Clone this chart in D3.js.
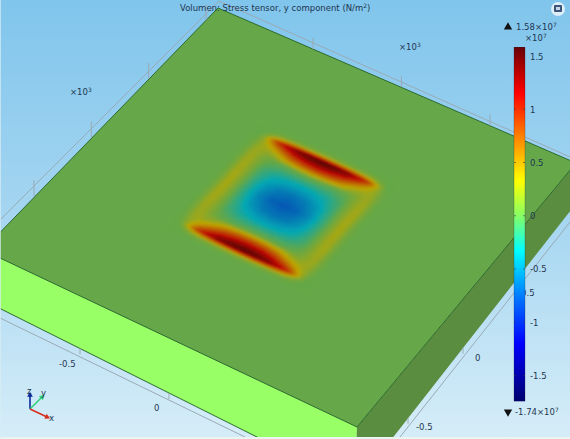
<!DOCTYPE html>
<html><head><meta charset="utf-8">
<script src="https://cdnjs.cloudflare.com/ajax/libs/d3/7.8.5/d3.min.js"></script>
<style>html,body{margin:0;padding:0;background:#fff}svg{display:block}text{font-family:"DejaVu Sans",sans-serif;fill:#1f3650}</style>
</head><body><svg id="c" width="570" height="439"></svg>
<script>
const titleText = "Volumen: Stress tensor, y component (N/m";
const colorbarTicks = [1.5, 1, 0.5, 0, -0.5, -1, -1.5];
const colorbarMax = 1.58, colorbarMin = -1.74;
const stopValues = [-1.74, -1.2, -0.8, -0.33, 0, 0.33, 0.75, 1.15, 1.4, 1.58];
const stopColors = ["#00006e", "#0000ff", "#006eff", "#00ffff", "#86ff64", "#ffff00", "#ff8000", "#ff0000", "#aa0000", "#680008"];
const gridCoordsX = [-.38,-.35,-.335,-.32,-.30,-.28,-.25,-.21,-.14,-.07,0,.07,.14,.21,.25,.28,.30,.32,.335,.35,.38];
const gridCoordsY = [-.42,-.39,-.37,-.352,-.33,-.308,-.275,-.231,-.154,-.077,0,.077,.154,.231,.275,.308,.33,.352,.37,.39,.42];
const fieldValues = [
[0,0,0,0,0,0,0,0,0,0,0,0,0,0,0,0,0,0,0,0,0],
[0,0,0,.01,.03,.05,.08,.1,.12,.14,.15,.14,.12,.1,.08,.05,.03,.01,0,0,0],
[0,0,.02,.05,.12,.22,.4,.6,.8,.9,.95,.9,.8,.6,.4,.22,.12,.05,.02,0,0],
[0,.01,.05,.12,.3,.55,.9,1.15,1.42,1.52,1.55,1.52,1.42,1.15,.9,.55,.3,.12,.05,.01,0],
[0,.02,.06,.14,.25,.4,.65,.9,1.25,1.4,1.45,1.4,1.25,.9,.65,.4,.25,.14,.06,.02,0],
[0,.03,.08,.14,.2,.27,.4,.62,.95,1.15,1.2,1.15,.95,.62,.4,.27,.2,.14,.08,.03,0],
[0,.04,.1,.16,.2,.2,.18,.25,.55,.7,.75,.7,.55,.25,.18,.2,.2,.16,.1,.04,0],
[0,.05,.11,.18,.2,.16,.08,.02,0,.03,.05,.03,0,.02,.08,.16,.2,.18,.11,.05,0],
[0,.05,.12,.2,.22,.16,.05,-.1,-.24,-.3,-.32,-.3,-.24,-.1,.05,.16,.22,.2,.12,.05,0],
[0,.05,.12,.2,.24,.17,.04,-.14,-.4,-.55,-.6,-.55,-.4,-.14,.04,.17,.24,.2,.12,.05,0],
[0,.05,.12,.2,.25,.17,.03,-.16,-.48,-.68,-.74,-.68,-.48,-.16,.03,.17,.25,.2,.12,.05,0],
[0,.05,.12,.2,.24,.17,.04,-.14,-.4,-.55,-.6,-.55,-.4,-.14,.04,.17,.24,.2,.12,.05,0],
[0,.05,.12,.2,.22,.16,.05,-.1,-.24,-.3,-.32,-.3,-.24,-.1,.05,.16,.22,.2,.12,.05,0],
[0,.05,.11,.18,.2,.16,.08,.02,0,.03,.05,.03,0,.02,.08,.16,.2,.18,.11,.05,0],
[0,.04,.1,.16,.2,.2,.18,.25,.55,.7,.75,.7,.55,.25,.18,.2,.2,.16,.1,.04,0],
[0,.03,.08,.14,.2,.27,.4,.62,.95,1.15,1.2,1.15,.95,.62,.4,.27,.2,.14,.08,.03,0],
[0,.02,.06,.14,.25,.4,.65,.9,1.25,1.4,1.45,1.4,1.25,.9,.65,.4,.25,.14,.06,.02,0],
[0,.01,.05,.12,.3,.55,.9,1.15,1.42,1.52,1.55,1.52,1.42,1.15,.9,.55,.3,.12,.05,.01,0],
[0,0,.02,.05,.12,.22,.4,.6,.8,.9,.95,.9,.8,.6,.4,.22,.12,.05,.02,0,0],
[0,0,0,.01,.03,.05,.08,.1,.12,.14,.15,.14,.12,.1,.08,.05,.03,.01,0,0,0],
[0,0,0,0,0,0,0,0,0,0,0,0,0,0,0,0,0,0,0,0,0]
];
const axisTicksBackLeft = [-0.5, 0, 0.5, 1];
const axisTicksBackRight = [-0.5, 0, 0.5];
const axisTicksFrontLeft = [-0.5, 0];
const axisTicksFrontRight = [-0.5, 0];

const svg = d3.select("#c");
const defs = svg.append("defs");
const bg = defs.append("linearGradient").attr("id","bg").attr("x1",0).attr("x2",0).attr("y1",0).attr("y2",1);
[[0,"#80c5ec"],[.5,"#a6d6f1"],[1,"#d6edf8"]].forEach(d=>bg.append("stop").attr("offset",d[0]).attr("stop-color",d[1]));
defs.append("filter").attr("id","soft").attr("x","-5%").attr("y","-5%").attr("width","110%").attr("height","110%")
  .append("feGaussianBlur").attr("stdDeviation",0.9);
defs.append("filter").attr("id","soft2").append("feGaussianBlur").attr("stdDeviation",0.25);
svg.append("rect").attr("width",570).attr("height",439).attr("fill","url(#bg)");

// Perspective plane from its four screen corners
function plane(p00,p10,p11,p01){
  const dx1=p10[0]-p11[0],dx2=p01[0]-p11[0],sx=p00[0]-p10[0]+p11[0]-p01[0];
  const dy1=p10[1]-p11[1],dy2=p01[1]-p11[1],sy=p00[1]-p10[1]+p11[1]-p01[1];
  const den=dx1*dy2-dx2*dy1,g=(sx*dy2-dx2*sy)/den,h=(dx1*sy-sx*dy1)/den;
  const a=p10[0]-p00[0]+g*p10[0],b=p01[0]-p00[0]+h*p01[0];
  const d=p10[1]-p00[1]+g*p10[1],e=p01[1]-p00[1]+h*p01[1];
  return (s,t)=>{const w=1+g*s+h*t;return [(a*s+b*t+p00[0])/w,(d*s+e*t+p00[1])/w];};
}
const unit=d3.scaleLinear([-1,1],[0,1]);
const topP=plane([-17,250],[357,427],[576,163],[218,8]);
const botP=plane([-17,300],[355,486],[578,201],[218,60]);
const top3=(x,y)=>topP(unit(x),unit(y)), bot3=(x,y)=>botP(unit(x),unit(y));

const color=d3.scaleLinear(stopValues,stopColors).clamp(true);
const shade=c=>{const r=d3.rgb(c);return d3.rgb(r.r*.76,r.g*.66,r.b*.73).formatRgb();};
const plateFill=shade(color(0));
const poly=d3.line();

const faces=[
 {pts:[bot3(-1,-1),bot3(1,-1),top3(1,-1),top3(-1,-1)],fill:"#99ff66"},
 {pts:[top3(1,-1),bot3(1,-1),bot3(1,1),top3(1,1)],fill:"#5b8d40"},
 {pts:[top3(-1,-1),top3(1,-1),top3(1,1),top3(-1,1)],fill:plateFill}
];
svg.selectAll("path.face").data(faces).join("path").attr("class","face")
  .attr("d",d=>poly(d.pts)+"Z").attr("fill",d=>d.fill);

// Stress field
const last=gridCoordsX.length-1;
const idxX=d3.scaleLinear(gridCoordsX,d3.range(last+1)).clamp(true);
const idxY=d3.scaleLinear(gridCoordsY,d3.range(last+1)).clamp(true);
function field(x,y){
  const fx=idxX(x),fy=idxY(y),i=Math.min(Math.floor(fx),last-1),j=Math.min(Math.floor(fy),last-1),u=fx-i,v=fy-j;
  return d3.interpolateNumber(
    d3.interpolateNumber(fieldValues[j][i],fieldValues[j][i+1])(u),
    d3.interpolateNumber(fieldValues[j+1][i],fieldValues[j+1][i+1])(u))(v);
}
const N=110,fineX=d3.scaleLinear([0,N],d3.extent(gridCoordsX)),fineY=d3.scaleLinear([0,N],d3.extent(gridCoordsY));
const cells=d3.cross(d3.range(N),d3.range(N));
const cg=svg.append("g").attr("filter","url(#soft)");
cg.selectAll("path").data(cells).join("path")
  .attr("d",([i,j])=>poly([top3(fineX(i),fineY(j)),top3(fineX(i+1),fineY(j)),top3(fineX(i+1),fineY(j+1)),top3(fineX(i),fineY(j+1))])+"Z")
  .each(function([i,j]){const c=shade(color(field(fineX(i+.5),fineY(j+.5))));d3.select(this).attr("fill",c).attr("stroke",c).attr("stroke-width",.5);});

// Plate edges
const edgeCol="#2d6a2b";
const edges=[[top3(-1,-1),top3(-1,1)],[top3(-1,1),top3(1,1)],[top3(-1,-1),top3(1,-1)],[top3(1,-1),top3(1,1)],[bot3(-1,-1),bot3(1,-1)]];
svg.selectAll("path.edge").data(edges).join("path").attr("class","edge").attr("d",d=>poly(d))
  .attr("stroke",edgeCol).attr("stroke-width",1).attr("fill","none");

// Axis frame lines and their ticks
const frameCol="#9aaab4";
const frames=[
 {line:[[0,220],[219,1]],ticks:axisTicksBackLeft,dom:[-.5,1],rng:[34,206],plate:[[0,231],[218,8]],len:-16},
 {line:[[219,1],[570,157]],ticks:axisTicksBackRight,dom:[-.5,.5],rng:[313,490],plate:[[218,8],[570,160]],len:-11},
 {line:[[0,318],[245,437]],ticks:axisTicksFrontLeft,dom:[-.5,0],rng:[80,169],plate:[[0,308],[256,437]],len:6},
 {line:[[400,437],[570,222]],ticks:axisTicksFrontRight,dom:[-.5,0],rng:[408,463],plate:[[393,437],[563,220]],len:6}
];
const fg=svg.append("g").attr("filter","url(#soft2)");
frames.forEach(f=>{
  fg.append("path").attr("d",poly(f.line)).attr("stroke",frameCol).attr("fill","none");
  const sx=d3.scaleLinear(f.dom,f.rng), sy=d3.scaleLinear([f.plate[0][0],f.plate[1][0]],[f.plate[0][1],f.plate[1][1]]);
  fg.selectAll(null).data(f.ticks).join("line").attr("x1",d=>sx(d)).attr("x2",d=>sx(d))
    .attr("y1",d=>sy(sx(d))).attr("y2",d=>sy(sx(d))+f.len).attr("stroke",frameCol);
});

// Image-edge strips
svg.append("rect").attr("x",0).attr("y",437).attr("width",570).attr("height",2).attr("fill","#eaf4f0");
svg.append("rect").attr("x",0).attr("y",0).attr("width",1).attr("height",439).attr("fill","#d8ecf4").attr("opacity",.7);

// Text helper with superscript
const baseSize=8.5;
function label(x,y,t,sup,anchor,size){
  const n=svg.append("text").attr("x",x).attr("y",y).attr("font-size",size||baseSize).attr("text-anchor",anchor||"start").text(t);
  if(sup){n.append("tspan").attr("dy",-3.5).attr("font-size",(size||baseSize)*.7).text(sup);}
  return n;
}
const ct=label(180,11,titleText,"2");
ct.append("tspan").attr("dy",3.5).text(")");
label(70,95,"×10","3"); label(399,50,"×10","3");
label(59,367,"-0.5"); label(154,411,"0"); label(475,361,"0"); label(416,430,"-0.5");
label(518,296,"-0.5");

// Colorbar
const barY=d3.scaleLinear([colorbarMin,colorbarMax],[401,47.5]);
const barRows=d3.range(Math.floor(barY(colorbarMax)),Math.ceil(barY(colorbarMin)));
svg.append("g").selectAll("rect").data(barRows).join("rect")
  .attr("x",514).attr("width",11).attr("y",d=>d).attr("height",1.2)
  .attr("fill",d=>color(barY.invert(d+.5)));
svg.append("rect").attr("x",514).attr("y",47.5).attr("width",11).attr("height",353.5).attr("fill","none").attr("stroke","#223").attr("stroke-opacity",.25);
const tg=svg.append("g").selectAll("g").data(colorbarTicks).join("g").attr("transform",d=>`translate(0,${barY(d)})`);
tg.append("rect").attr("x",514).attr("y",-.5).attr("width",2).attr("height",1).attr("fill","#334").attr("opacity",.55);
tg.append("rect").attr("x",523).attr("y",-.5).attr("width",2).attr("height",1).attr("fill","#334").attr("opacity",.55);
tg.append("text").attr("x",530).attr("y",3.5).attr("font-size",baseSize).text(d=>String(d));

label(516,30,"1.58×10","7"); label(525,41,"×10","7");
label(515,415,"-1.74×10","7");
svg.append("path").attr("d",d3.symbol(d3.symbolTriangle,30)()).attr("transform","translate(508,27)").attr("fill","#111");
svg.append("path").attr("d",d3.symbol(d3.symbolTriangle,30)()).attr("transform","translate(508,412) rotate(180)").attr("fill","#111");

// Camera icon
svg.append("circle").attr("cx",558).attr("cy",9).attr("r",7).attr("fill","#e8f2f8").attr("opacity",.9);
svg.append("rect").attr("x",554).attr("y",5).attr("width",8).attr("height",7).attr("rx",1).attr("fill","#3c5578");
svg.append("rect").attr("x",556).attr("y",7).attr("width",4).attr("height",3).attr("fill","#c9d6e6");

// Triad
const triad=[{to:[30,395],c:"#0a2a9a",t:"z",tx:[27,394]},{to:[42,397],c:"#2fd07a",t:"y",tx:[41,396]},{to:[47,417],c:"#d83020",t:"x",tx:[49,421]}];
triad.forEach(d=>{
  svg.append("line").attr("x1",30).attr("y1",409).attr("x2",d.to[0]).attr("y2",d.to[1]).attr("stroke",d.c).attr("stroke-width",1.6);
  const ang=Math.atan2(d.to[0]-30,409-d.to[1])*180/Math.PI;
  svg.append("path").attr("d",d3.symbol(d3.symbolTriangle,14)()).attr("transform",`translate(${d.to[0]},${d.to[1]}) rotate(${ang})`).attr("fill",d.c);
  label(d.tx[0],d.tx[1],d.t);
});
</script></body></html>
